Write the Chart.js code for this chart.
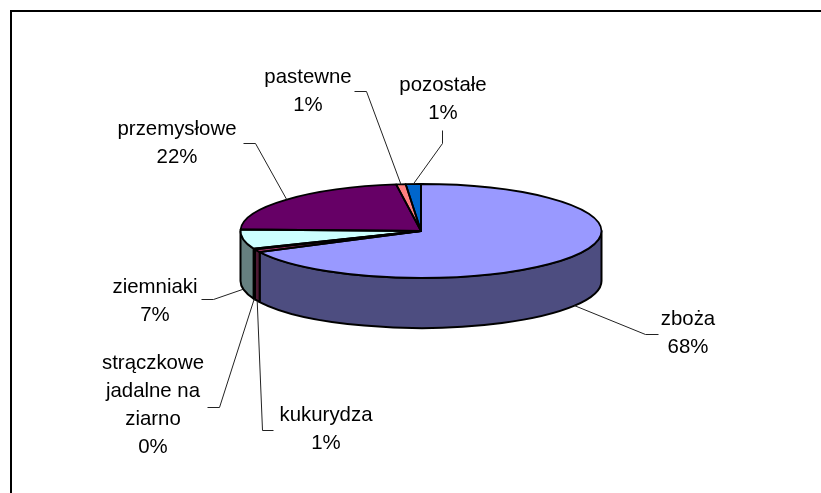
<!DOCTYPE html>
<html><head><meta charset="utf-8">
<style>html,body{margin:0;padding:0;background:#fff}#w{position:absolute;left:0;top:0;width:821px;height:493px}</style>
<script src="https://cdn.jsdelivr.net/npm/chart.js@4"></script>
</head><body><div id="w"><canvas id="c" width="821" height="493"></canvas></div>
<script>
const categories = ['zboża','kukurydza','strączkowe jadalne na ziarno','ziemniaki','przemysłowe','pastewne','pozostałe'];
const shares = [67.6,1.0,0.3,6.6,22.3,0.85,1.35];
const topColors = ['#9999FF','#993366','#FFFFCC','#CCFFFF','#660066','#FF8080','#0066CC'];
const sideColors = ['#4D4D80','#4D1933','#808066','#668080','#330033','#804040','#003366'];
const labelLines = [['zboża'],['kukurydza'],['strączkowe','jadalne na','ziarno'],['ziemniaki'],['przemysłowe'],['pastewne'],['pozostałe']];
const labelCenters = [[688,319],[326,415],[153,363],[155,287],[177,129],[308,77],[443,85]];
const leaderBends = [[[645,334],[658,334]],[[262,430],[273,430]],[[219,407],[207,407]],[[213,299],[201,299]],[[255,143],[243,143]],[[366,91],[354,91]],[[442,143],[442,130]]];

const CX=421, CY=231, RX=180.5, RY=47, DEPTH=50;
const FONT='20.4px "Liberation Sans", Arial, sans-serif';
const LH=28;

const pie3d={
  id:'pie3d',
  beforeDatasetsDraw(chart){
    const ctx=chart.ctx, arcs=chart.getDatasetMeta(0).data;
    const k=RY/RX;
    arcs.forEach((a,i)=>{
      const s=Math.max(a.startAngle,0), e=Math.min(a.endAngle,Math.PI);
      if(e<=s) return;
      ctx.save();
      ctx.beginPath();
      ctx.moveTo(a.x+RX*Math.cos(s),a.y+RY*Math.sin(s));
      ctx.ellipse(a.x,a.y,RX,RY,0,s,e);
      ctx.lineTo(a.x+RX*Math.cos(e),a.y+RY*Math.sin(e)+DEPTH);
      ctx.ellipse(a.x,a.y+DEPTH,RX,RY,0,e,s,true);
      ctx.closePath();
      ctx.fillStyle=sideColors[i]; ctx.fill();
      ctx.strokeStyle='#000'; ctx.lineWidth=2; ctx.lineJoin='round'; ctx.stroke();
      ctx.restore();
    });
    const a0=arcs[0];
    ctx.save();
    ctx.translate(a0.x,a0.y); ctx.scale(1,k); ctx.translate(-a0.x,-a0.y);
  },
  afterDatasetsDraw(chart){
    const ctx=chart.ctx, arcs=chart.getDatasetMeta(0).data;
    ctx.restore();
    ctx.save();
    ctx.strokeStyle='#000'; ctx.lineWidth=1.8; ctx.lineJoin='round';
    arcs.forEach(a=>{
      ctx.beginPath();
      ctx.moveTo(a.x,a.y);
      ctx.ellipse(a.x,a.y,RX,RY,0,a.startAngle,a.endAngle);
      ctx.closePath();
      ctx.stroke();
    });
    ctx.restore();
  },
  afterDraw(chart){
    const ctx=chart.ctx, arcs=chart.getDatasetMeta(0).data;
    const total=shares.reduce((p,v)=>p+v,0);
    ctx.save();
    ctx.strokeStyle='#000'; ctx.lineWidth=2;
    ctx.beginPath(); ctx.moveTo(11,493); ctx.lineTo(11,11); ctx.lineTo(821,11); ctx.stroke();
    ctx.strokeStyle='#222'; ctx.lineWidth=1;
    arcs.forEach((a,i)=>{
      const m=(a.startAngle+a.endAngle)/2;
      const front=Math.sin(m)>0;
      const px=a.x+RX*Math.cos(m), py=a.y+RY*Math.sin(m)+(front?DEPTH:0);
      ctx.beginPath(); ctx.moveTo(px,py);
      leaderBends[i].forEach(b=>ctx.lineTo(b[0]+.5,b[1]+.5));
      ctx.stroke();
    });
    ctx.fillStyle='#000'; ctx.font=FONT; ctx.textAlign='center'; ctx.textBaseline='middle';
    categories.forEach((c,i)=>{
      const lines=labelLines[i].concat([Math.round(shares[i]/total*100)+'%']);
      lines.forEach((t,j)=>ctx.fillText(t,labelCenters[i][0],labelCenters[i][1]+j*LH));
    });
    ctx.restore();
  }
};

new Chart(document.getElementById('c'),{
  type:'pie',
  data:{labels:categories,datasets:[{data:shares,backgroundColor:topColors,borderWidth:0,clip:false}]},
  options:{
    responsive:false,animation:false,events:[],
    radius:RX,
    layout:{padding:{left:2*CX-821,top:0,right:0,bottom:493-2*CY}},
    plugins:{legend:{display:false},tooltip:{enabled:false},title:{display:false}}
  },
  plugins:[pie3d]
});
</script></body></html>
